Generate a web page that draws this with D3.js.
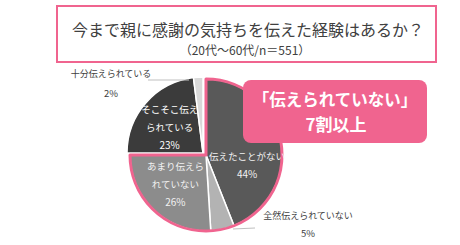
<!DOCTYPE html>
<html>
<head>
<meta charset="utf-8">
<script src="https://cdn.jsdelivr.net/npm/d3@7"></script>
<style>
  body { margin: 0; background: #fff; }
  svg { display: block; font-family: "Noto Sans CJK JP", "Noto Sans", sans-serif; }
</style>
</head>
<body>
<svg width="460" height="245"></svg>
<script>
const title = "今まで親に感謝の気持ちを伝えた経験はあるか？";
const subtitle = "（20代～60代/n＝551）";
const categories = ["伝えたことがない", "全然伝えられていない", "あまり伝えられていない", "そこそこ伝えられている", "十分伝えられている"];
const labelLines = [["伝えたことがない"], ["全然伝えられていない"], ["あまり伝えら", "れていない"], ["そこそこ伝え", "られている"], ["十分伝えられている"]];
const values = [44, 5, 26, 23, 2];
const calloutLines = ["「伝えられていない」", "7割以上"];

const PINK = "#f0648f";
const colors = ["#595959", "#b3b3b3", "#8c8c8c", "#3b3b3b", "#d9d9d9"];
const textColors = ["#f2f2f2", "#404040", "#f2f2f2", "#ffffff", "#404040"];

const svg = d3.select("svg");
const cx = 203, cy = 153, r = 76;
const notConveyed = [0, 1, 2]; // 伝えられていない
const shift = [3, 2];

// title box
svg.append("rect")
  .attr("x", 57).attr("y", 6).attr("width", 379).attr("height", 56)
  .attr("fill", "#fff").attr("stroke", PINK).attr("stroke-width", 2);
svg.append("text").attr("x", 248).attr("y", 36).attr("text-anchor", "middle")
  .attr("font-size", 16).attr("fill", "#404040").text(title);
svg.append("text").attr("x", 245).attr("y", 55).attr("text-anchor", "middle")
  .attr("font-size", 12).attr("fill", "#404040").text(subtitle);

const pie = d3.pie().sort(null).value(d => d)(values);
const arc = d3.arc().innerRadius(0).outerRadius(r);

const g = svg.append("g").attr("transform", `translate(${cx},${cy})`);

g.selectAll("path.slice")
  .data(pie)
  .join("path")
  .attr("class", "slice")
  .attr("d", arc)
  .attr("fill", (d, i) => colors[i])
  .attr("stroke", "#fff")
  .attr("stroke-width", 1.5)
  .attr("transform", (d, i) => notConveyed.includes(i) ? `translate(${shift[0]},${shift[1]})` : null);

// pink outline round the "not conveyed" part
const startA = pie[notConveyed[0]].startAngle;
const endA = pie[notConveyed[notConveyed.length - 1]].endAngle;
g.append("path")
  .attr("d", d3.arc().innerRadius(0).outerRadius(r)({ startAngle: startA, endAngle: endA }))
  .attr("transform", `translate(${shift[0]},${shift[1]})`)
  .attr("fill", "none")
  .attr("stroke", PINK)
  .attr("stroke-width", 3)
  .attr("stroke-linejoin", "round");

// inside labels
const labelArc = d3.arc().innerRadius(r * 0.55).outerRadius(r * 0.55);
const inside = [0, 2, 3];
const insideOffset = { 0: [0, 20], 2: [-2, 1], 3: [-2, 2] };
inside.forEach(i => {
  const [x, y] = labelArc.centroid(pie[i]);
  const off = insideOffset[i];
  const lines = labelLines[i].concat([values[i] + "%"]);
  const lh = 18;
  const y0 = y + off[1] - (lines.length - 1) * lh / 2;
  const t = g.append("text")
    .attr("text-anchor", "middle")
    .attr("fill", textColors[i])
    .attr("font-size", 9.5);
  lines.forEach((s, k) => {
    t.append("tspan").attr("x", x + off[0] + shift[0] * notConveyed.includes(i))
      .attr("y", y0 + k * lh + 3.5)
      .attr("font-size", k === lines.length - 1 ? 10 : 9.5)
      .text(s);
  });
});

// outside labels with leader lines
const outside = [
  { i: 4, lx: -92, ly: -76, px: -14, py: -73, ex: -55, ey: -73, anchor: "middle", pctx: -92, pcty: -56 },
  { i: 1, lx: 105, ly: 66, px: 30, py: 76, ex: 52, ey: 75, anchor: "middle", pctx: 105, pcty: 84 }
];
outside.forEach(o => {
  g.append("line")
    .attr("x1", o.px).attr("y1", o.py).attr("x2", o.ex).attr("y2", o.ey)
    .attr("stroke", "#bfbfbf").attr("stroke-width", 1);
  g.append("text").attr("x", o.lx).attr("y", o.ly).attr("text-anchor", o.anchor)
    .attr("font-size", 9).attr("fill", "#404040").text(labelLines[o.i][0]);
  g.append("text").attr("x", o.pctx).attr("y", o.pcty).attr("text-anchor", o.anchor)
    .attr("font-size", 9.5).attr("fill", "#404040").text(values[o.i] + "%");
});

// callout
svg.append("rect")
  .attr("x", 243).attr("y", 80).attr("width", 184).attr("height", 63).attr("rx", 8)
  .attr("fill", PINK);
svg.selectAll("text.callout")
  .data(calloutLines)
  .join("text")
  .attr("class", "callout")
  .attr("x", (d, k) => k === 0 ? 335 : 336)
  .attr("y", (d, k) => 106 + k * 25)
  .attr("text-anchor", "middle")
  .attr("fill", "#fff")
  .attr("font-weight", "bold")
  .attr("font-size", (d, k) => k === 0 ? 16.5 : 17)
  .text(d => d);
</script>
</body>
</html>
